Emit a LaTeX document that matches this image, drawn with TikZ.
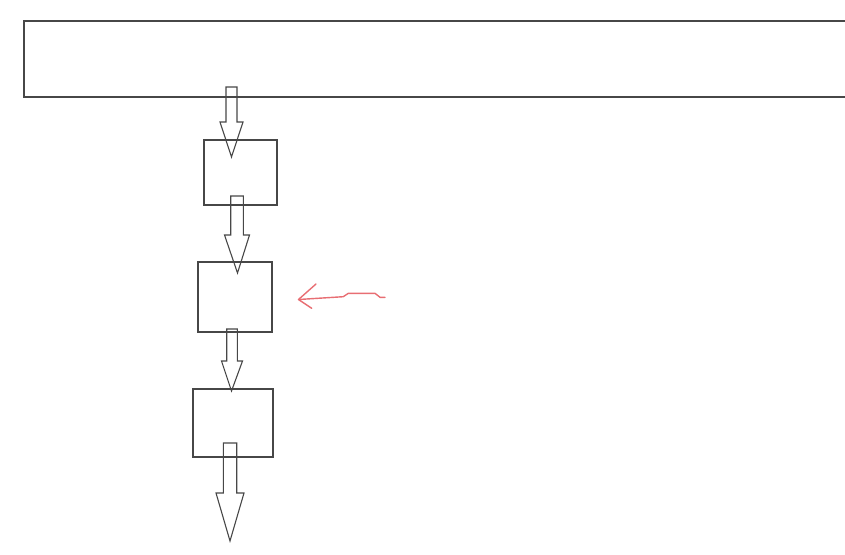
\documentclass[tikz,border=0pt]{standalone}
\begin{document}
\begin{tikzpicture}[x=1pt,y=-1pt,
  line/.style={draw=black!72,line width=1.1pt},
  blk/.style={line,rectangle,inner sep=0pt,outer sep=0pt},
  barrow/.style={line,line join=miter},
  redline/.style={draw={rgb,255:red,232;green,110;blue,115},line width=1.4pt,line cap=round,line join=round}]
\useasboundingbox (0,0) rectangle (845,554);
% top wide box (runs off the right edge)
\node[blk,minimum width=830pt,minimum height=76pt] (top) at (439,59) {};
% three boxes
\node[blk,minimum width=73pt,minimum height=65pt] (b1) at (240.5,172.5) {};
\node[blk,minimum width=74pt,minimum height=70pt] (b2) at (235,297) {};
\node[blk,minimum width=80pt,minimum height=68pt] (b3) at (233,423) {};
% block arrows: (cx,top) shaft half width, head base, head half width, tip
\newcommand\blockarrow[6]{%
  \draw[barrow] (#1-#3,#2) -- (#1-#3,#4) -- (#1-#5,#4) -- (#6) -- (#1+#5,#4) -- (#1+#3,#4) -- (#1+#3,#2) -- cycle;}
\coordinate (t1) at (231.5,157);
\coordinate (t2) at (237.5,273);
\coordinate (t3) at (231.5,391);
\coordinate (t4) at (230,541);
\blockarrow{231.5}{87}{5.5}{122}{11.5}{t1}
\blockarrow{237}{196}{6.3}{235}{12.5}{t2}
\blockarrow{232}{329}{5.3}{361}{10.5}{t3}
\blockarrow{230}{443}{6.7}{493}{14}{t4}
% red hand-drawn arrow
\coordinate (rt) at (298.5,299.5);
\draw[redline] (385,297.3) -- (380,297.3) -- (375,293.3) -- (348.3,293.3) -- (343.3,296.7) -- (rt);
\draw[redline] (316,284) -- (rt) -- (311.7,308.3);
\end{tikzpicture}
\end{document}
